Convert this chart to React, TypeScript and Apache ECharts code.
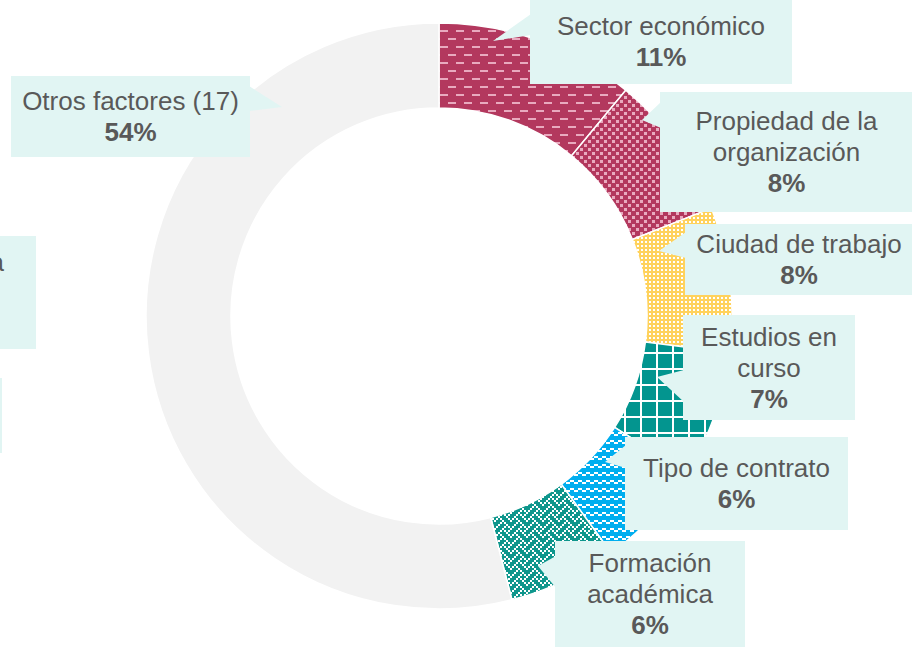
import React, { useEffect, useRef } from "react";
import * as echarts from "echarts";

// ---- Data ----
const CATEGORIES = [
  "Sector económico",
  "Propiedad de la organización",
  "Ciudad de trabajo",
  "Estudios en curso",
  "Tipo de contrato",
  "Formación académica",
  "Otros factores (17)",
];
const SHARES = [11, 8, 8, 7, 6, 6, 54];

// ---- Layout (positions / sizes only) ----
const BOXES = [
  { x: 530, y: -2, w: 262, h: 86, cw: 240 },
  { x: 660, y: 92, w: 253, h: 120, cw: 220 },
  { x: 685, y: 224, w: 228, h: 71, cw: 226 },
  { x: 683, y: 315, w: 172, h: 105, cw: 160 },
  { x: 625, y: 437, w: 223, h: 93, cw: 215 },
  { x: 555, y: 541, w: 190, h: 106, cw: 170 },
  { x: 11, y: 76, w: 239, h: 81, cw: 235 },
];
const POINTERS = [
  [[531, 14], [493, 41], [531, 35]],
  [[661, 102], [642, 120], [661, 128]],
  [[686, 232], [659, 251], [686, 258]],
  [[684, 370], [657, 377], [684, 402]],
  [[626, 445], [605, 462], [626, 468]],
  [[556, 556], [538, 566], [556, 588]],
  [[249, 86], [282, 107], [249, 111]],
];

const TEXT_COLOR = "#595959";
const BOX_COLOR = "#E1F5F3";
const FONT = "'Liberation Sans', Arial, sans-serif";
const FONT_SIZE = 26;

function tile(w: number, h: number, bg: string, draw: (ctx: CanvasRenderingContext2D) => void) {
  const c = document.createElement("canvas");
  c.width = w;
  c.height = h;
  const ctx = c.getContext("2d") as CanvasRenderingContext2D;
  ctx.fillStyle = bg;
  ctx.fillRect(0, 0, w, h);
  draw(ctx);
  return { image: c.toDataURL(), imageWidth: w, imageHeight: h, repeat: "repeat" };
}

function bitsTile(bytes: number[], scale: number, bg: string, fg: string) {
  const n = 8 * scale;
  return tile(n, n, bg, (ctx) => {
    ctx.fillStyle = fg;
    bytes.forEach((b, r) => {
      for (let c = 0; c < 8; c++) {
        if (b & (0x80 >> c)) ctx.fillRect(c * scale, r * scale, scale, scale);
      }
    });
  });
}

function buildFills(): any[] {
  const crimson = "#B3385E";
  const pink = "#E9AABF";
  return [
    tile(16, 16, crimson, (ctx) => {
      ctx.fillStyle = pink;
      ctx.fillRect(0, 6, 8, 2);
      ctx.fillRect(8, 14, 8, 2);
    }),
    tile(8, 8, crimson, (ctx) => {
      ctx.fillStyle = pink;
      ctx.fillRect(0, 0, 3, 3);
      ctx.fillRect(4, 4, 3, 3);
    }),
    tile(4, 4, "#FFD25C", (ctx) => {
      ctx.fillStyle = "#FFFFFF";
      ctx.fillRect(1, 1, 2, 2);
    }),
    tile(16, 16, "#03958F", (ctx) => {
      ctx.fillStyle = "#FFFFFF";
      ctx.fillRect(0, 0, 16, 2);
      ctx.fillRect(0, 0, 2, 16);
    }),
    tile(8, 8, "#00AEEF", (ctx) => {
      ctx.fillStyle = "#FFFFFF";
      ctx.fillRect(2, 0, 4, 2);
      ctx.fillRect(0, 2, 2, 2);
      ctx.fillRect(6, 2, 2, 2);
    }),
    bitsTile([0x11, 0x2a, 0x44, 0xa2, 0x11, 0x28, 0x44, 0x8a], 2, "#0E968C", "#FFFFFF"),
    "#F2F2F2",
  ];
}

function wrapWords(text: string, maxWidth: number): string[] {
  const c = document.createElement("canvas");
  const ctx = c.getContext("2d") as CanvasRenderingContext2D;
  ctx.font = `${FONT_SIZE}px ${FONT}`;
  const words = text.split(" ");
  const lines: string[] = [];
  let cur = "";
  words.forEach((w) => {
    const cand = cur ? cur + " " + w : w;
    if (cur && ctx.measureText(cand).width > maxWidth) {
      lines.push(cur);
      cur = w;
    } else {
      cur = cand;
    }
  });
  if (cur) lines.push(cur);
  return lines;
}

export default function App() {
  const ref = useRef<HTMLDivElement>(null);

  useEffect(() => {
    document.body.style.margin = "0";
    if (!ref.current) return;
    const chart = echarts.init(ref.current, undefined, { renderer: "svg" });
    const fills = buildFills();

    const richStyles = {
      n: { fontSize: FONT_SIZE, fontFamily: FONT, fill: TEXT_COLOR, lineHeight: 31, align: "center" },
      p: {
        fontSize: FONT_SIZE,
        fontFamily: FONT,
        fontWeight: "bold",
        fill: TEXT_COLOR,
        lineHeight: 31,
        align: "center",
      },
    };

    const labelGraphics: any[] = [];
    // partially visible boxes at the left edge
    labelGraphics.push({
      type: "rect",
      z: 10,
      shape: { x: -220, y: 236, width: 256, height: 113 },
      style: { fill: BOX_COLOR },
    });
    labelGraphics.push({
      type: "rect",
      z: 10,
      shape: { x: -220, y: 378, width: 222, height: 75 },
      style: { fill: BOX_COLOR },
    });
    labelGraphics.push({
      type: "text",
      z: 11,
      style: {
        text: "a",
        x: 4,
        y: 262,
        align: "right",
        verticalAlign: "middle",
        fontSize: FONT_SIZE,
        fontFamily: FONT,
        fill: TEXT_COLOR,
      },
    });

    CATEGORIES.forEach((name, i) => {
      const b = BOXES[i];
      const lines = wrapWords(name, b.cw);
      labelGraphics.push({
        type: "polygon",
        z: 10,
        shape: { points: POINTERS[i] },
        style: { fill: BOX_COLOR },
      });
      labelGraphics.push({
        type: "rect",
        z: 10,
        shape: { x: b.x, y: b.y, width: b.w, height: b.h },
        style: { fill: BOX_COLOR },
      });
      labelGraphics.push({
        type: "text",
        z: 11,
        style: {
          text: lines.map((l) => `{n|${l}}`).join("\n") + `\n{p|${SHARES[i]}%}`,
          x: b.x + b.w / 2,
          y: b.y + b.h / 2,
          align: "center",
          verticalAlign: "middle",
          rich: richStyles,
        },
      });
    });

    chart.setOption({
      animation: false,
      backgroundColor: "#FFFFFF",
      series: [
        {
          type: "pie",
          center: [439, 316],
          radius: [208, 293],
          startAngle: 90,
          clockwise: true,
          silent: true,
          avoidLabelOverlap: false,
          label: { show: false },
          labelLine: { show: false },
          itemStyle: { borderColor: "#FFFFFF", borderWidth: 1.5 },
          data: CATEGORIES.map((n, i) => ({
            name: n,
            value: SHARES[i],
            itemStyle: { color: fills[i] },
          })),
        },
      ],
      graphic: { elements: labelGraphics },
    });

    return () => chart.dispose();
  }, []);

  return <div ref={ref} style={{ width: 912, height: 647 }} />;
}
